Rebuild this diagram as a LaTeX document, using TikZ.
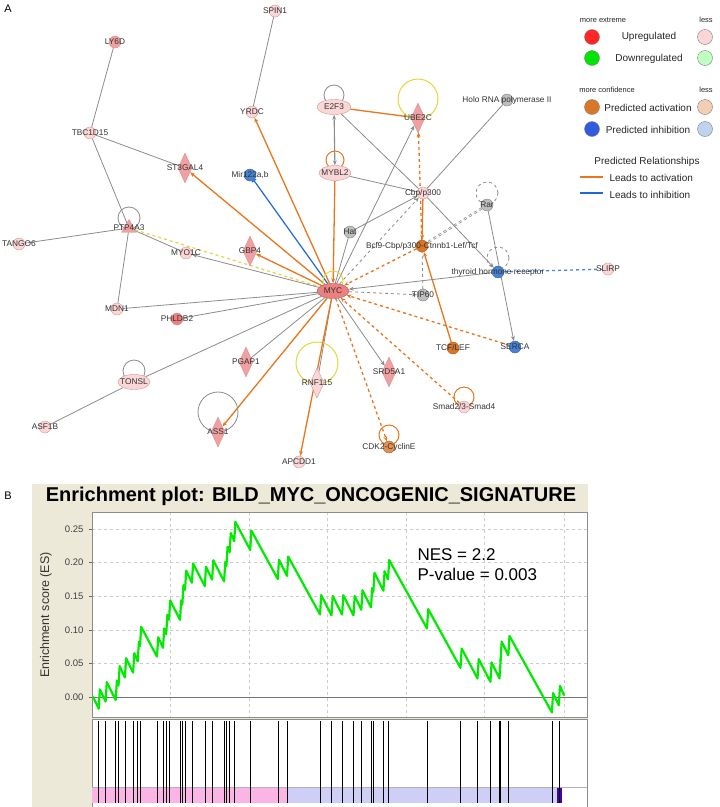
\documentclass[tikz,border=0pt]{standalone}
\usepackage{fontspec}
\setmainfont{Liberation Sans}
\usetikzlibrary{shapes.geometric,arrows.meta,backgrounds}
\definecolor{uplight}{RGB}{250,214,214}
\definecolor{upmid}{RGB}{240,160,160}
\definecolor{updark}{RGB}{236,128,128}
\definecolor{edgepink}{RGB}{215,150,150}
\definecolor{grnode}{RGB}{190,190,190}
\definecolor{ornode}{RGB}{218,118,40}
\definecolor{blnode}{RGB}{70,130,210}
\definecolor{oredge}{RGB}{232,118,28}
\definecolor{bledge}{RGB}{30,105,215}
\definecolor{gredge}{RGB}{140,140,140}
\definecolor{yeledge}{RGB}{228,215,60}
\definecolor{beige}{RGB}{236,233,216}
\definecolor{barpink}{RGB}{250,180,230}
\definecolor{barlav}{RGB}{206,206,246}
\definecolor{barpurple}{RGB}{70,0,170}
\definecolor{esgreen}{RGB}{0,235,0}
\newcommand{\glfont}{\fontsize{8.3}{9}\selectfont}
\tikzset{
  glabel/.style={label={[font=\glfont,text=black!80]center:#1}},
  gene/.style={circle, minimum size=12pt, inner sep=0pt, draw=edgepink, fill=uplight},
  genemid/.style={gene, fill=upmid},
  gray node/.style={gene, draw=gray, fill=grnode},
  orange node/.style={gene, draw=ornode!80!black, fill=ornode},
  blue node/.style={gene, draw=blnode!80!black, fill=blnode},
  ellip/.style={ellipse, minimum width=32pt, minimum height=15pt, inner sep=0pt, draw=edgepink, fill=uplight},
  dia/.style={diamond, minimum width=14pt, minimum height=30pt, inner sep=0pt, draw=edgepink, fill=upmid},
  tri/.style={regular polygon, regular polygon sides=3, minimum size=17pt, inner sep=0pt, draw=edgepink, fill=upmid},
  gline/.style={draw=gredge, line width=0.8pt},
  oline/.style={draw=oredge, line width=1.3pt},
  tip/.style={-{Stealth[length=5pt,width=4pt]}},
  legtext/.style={font=\fontsize{10}{12}\selectfont, text=black!85},
  legsmall/.style={font=\fontsize{7.5}{9}\selectfont, text=black!85},
  legdot/.style={circle, minimum size=15pt, inner sep=0pt, draw=black!50},
  escurve/.style={draw=esgreen, line width=2.2pt, line cap=round, line join=round},
  gridline/.style={draw=black!20, dashed, line width=0.5pt},
  ticklabel/.style={font=\fontsize{9.5}{11}\selectfont, text=black!75, anchor=east}
}
\begin{document}
\begin{tikzpicture}[x=1pt,y=-1pt]
\useasboundingbox (0,0) rectangle (720,807);
\node[font=\fontsize{11}{12}\selectfont] (panela) at (8,9) {A};
\node[font=\fontsize{11}{12}\selectfont] (panelb) at (8,496) {B};

% network nodes
\node[gene, glabel=SPIN1] (spin) at (275,11) {};
\node[genemid, glabel=LY6D] (lyd) at (115,42) {};
\node[gene, glabel=YRDC] (yrdc) at (252,112) {};
\node[ellip, minimum width=34pt, glabel=E2F3] (efthree) at (334,107) {};
\node[dia, glabel=UBE2C] (ube) at (418,118) {};
\node[gray node, glabel={Holo RNA polymerase II}] (holo) at (507,100) {};
\node[gene, glabel=TBC1D15] (tbc) at (90,133) {};
\node[dia, glabel=ST3GAL4] (stgal) at (185,168) {};
\node[blue node, glabel={Mir122a,b}] (mir) at (250,175) {};
\node[ellip, glabel=MYBL2] (mybl) at (335,173) {};
\node[gene, glabel=Cbp/p300] (cbp) at (423,193) {};
\node[gray node, glabel=Rar] (rar) at (487,205) {};
\node[gray node, glabel=Hat] (hat) at (350,232) {};
\node[orange node, glabel=Bcl9-Cbp/p300-Ctnnb1-Lef/Tcf] (bcl) at (422,246) {};
\node[tri, glabel=PTP4A3] (ptp) at (129,228) {};
\node[gene, glabel=TANGO6] (tango) at (19,244) {};
\node[gene, glabel=MYO1C] (myoc) at (186,253) {};
\node[dia, glabel=GBP4] (gbp) at (250,251) {};
\node[ellip, fill=updark, draw=updark!70!black, glabel=MYC] (myc) at (333,291) {};
\node[blue node, glabel={thyroid hormone receptor}] (thr) at (498,272) {};
\node[gene, glabel=SLIRP] (slirp) at (608,269) {};
\node[gray node, glabel=TIP60] (tip) at (423,295) {};
\node[gene, glabel=MDN1] (mdn) at (117,309) {};
\node[genemid, fill=updark, glabel=PHLDB2] (phl) at (177,319) {};
\node[orange node, glabel=TCF/LEF] (tcf) at (453,348) {};
\node[blue node, glabel=SERCA] (serca) at (515,347) {};
\node[dia, glabel=PGAP1] (pgap) at (246,362) {};
\node[dia, fill=uplight, glabel=RNF115] (rnf) at (317,383) {};
\node[dia, glabel=SRD5A1] (srd) at (389,372) {};
\node[ellip, glabel=TONSL] (tonsl) at (134,382) {};
\node[gene, glabel=Smad2/3-Smad4] (smad) at (464,407) {};
\node[gene, glabel=ASF1B] (asf) at (45,427) {};
\node[dia, glabel=ASS1] (ass) at (218,432) {};
\node[orange node, fill=ornode!80!white, glabel=CDK2-CyclinE] (cdk) at (389,447) {};
\node[gene, glabel=APCDD1] (apc) at (299,462) {};

% network edges
\begin{scope}[on background layer]
\fill[white] (0,0) rectangle (720,807);
\draw[gline] (spin) -- (yrdc);
\draw[gline] (lyd) -- (tbc);
\draw[gline] (tbc) -- (stgal);
\draw[gline] (tbc) -- (ptp);
\draw[gline] (ptp) -- (tango);
\draw[gline] (ptp) -- (mdn);
\draw[gline] (ptp) -- (myoc);
\draw[gline] ([yshift=10pt]ptp) circle (11pt);
\draw[draw=yeledge, line width=1.2pt, dashed] (ptp) -- (myc);
\draw[oline, tip] (myc) -- (yrdc);
\draw[oline, tip] (myc) -- (stgal);
\draw[draw=bledge, line width=1.2pt, -{Bar[width=5pt]}] (myc) -- (mir);
\draw[oline, tip] (myc) -- (gbp);
\draw[gline, tip] (myc) -- (myoc);
\draw[gline] (myc) -- (mdn);
\draw[gline] (myc) -- (phl);
\draw[gline] (myc) -- (tonsl);
\draw[gline] (tonsl) -- (asf);
\draw[gline] ([yshift=11pt]tonsl) circle (11pt);
\draw[gline] (myc) -- (pgap);
\draw[oline, tip] (myc) -- (ass);
\draw[gline] ([yshift=20pt]ass) circle (20pt);
\draw[gline] (myc) -- (rnf);
\draw[draw=yeledge, line width=1pt] ([yshift=20pt]rnf) circle (21pt);
\draw[oline, tip] (myc) -- (apc);
\draw[oline, dashed, tip] (myc) -- (cdk);
\draw[draw=oredge, line width=1pt] ([yshift=12pt]cdk) circle (10pt);
\draw[oline, dashed, tip] (smad) -- (myc);
\draw[draw=oredge, line width=1pt] ([yshift=10pt]smad) circle (10pt);
\draw[oline, dashed, tip] (serca) -- (myc);
\draw[gline, tip] (myc) -- (srd);
\draw[oline, tip] (tcf) -- (bcl);
\draw[oline, dashed, tip] (bcl) -- (myc);
\draw[gline, dashed, tip] (myc) -- (tip);
\draw[gline, dashed] (tip) -- (bcl);
\draw[gline, tip] (thr) -- (myc);
\draw[draw=bledge!80!white, line width=1.3pt, dashed] (thr) -- (slirp);
\draw[gline, dashed] ([yshift=14pt]thr) circle (11pt);
\draw[gline, tip] (rar) -- (serca);
\draw[gline, dashed, double] (rar) -- (bcl);
\draw[gline, dashed] ([yshift=12pt]rar) circle (11pt);
\draw[gline] (efthree) -- (cbp);
\draw[gline, tip] (cbp) -- (thr);
\draw[gline] (mybl) -- (cbp);
\draw[gline] (holo) -- (cbp);
\draw[oline] (efthree) -- (ube);
\draw[draw=yeledge, line width=1pt] ([yshift=19pt]ube) circle (20pt);
\draw[gline, line width=1.1pt, {Stealth[length=5pt]}-{Stealth[length=5pt]}] (efthree) -- (mybl);
\draw[gline] ([yshift=12pt]efthree) circle (10pt);
\draw[draw=oredge, line width=1pt] ([yshift=13pt]mybl) circle (9pt);
\draw[oline, tip] (mybl) -- (myc);
\draw[gline, tip] (myc) -- (ube);
\draw[gline, dashed, tip] (myc) -- (cbp);
\draw[gline, tip] (hat) -- (cbp);
\draw[gline] (myc) -- (hat);
\draw[oline, dashed, tip] (bcl) -- (ube);
\draw[oline, tip] (cbp) -- (bcl);
\draw[draw=yeledge, line width=1pt] ([yshift=10pt]myc) circle (10pt);
\end{scope}

% legend
\node[legsmall] (legext) at (603,20) {more extreme};
\node[legsmall] (legexl) at (706,20) {less};
\node[legdot, fill=red!85!white] (legup) at (592,37) {};
\node[legtext] (leguptxt) at (649,37) {Upregulated};
\node[legdot, fill=uplight] (legupl) at (705,37) {};
\node[legdot, fill=green!90!black] (legdn) at (592,58) {};
\node[legtext] (legdntxt) at (649,59) {Downregulated};
\node[legdot, fill=green!25] (legdnl) at (705,58) {};
\node[legsmall] (legconf) at (607,90) {more confidence};
\node[legsmall] (legconfl) at (706,90) {less};
\node[legdot, fill=ornode] (legact) at (592,107) {};
\node[legtext] (legacttxt) at (648,108) {Predicted activation};
\node[legdot, fill=ornode!35!white] (legactl) at (705,107) {};
\node[legdot, fill=blnode!70!blue] (leginh) at (592,129) {};
\node[legtext] (leginhtxt) at (648,130) {Predicted inhibition};
\node[legdot, fill=blnode!35!white] (leginhl) at (705,129) {};
\node[legtext] (legrel) at (647,162) {Predicted Relationships};
\coordinate (lao) at (580,177);
\coordinate (lat) at (603,177);
\draw[draw=oredge, line width=1.8pt] (lao) -- (lat);
\node[legtext, anchor=west] (legacttxt) at (606,178) {Leads to activation};
\coordinate (lbo) at (580,193);
\coordinate (lbt) at (603,193);
\draw[draw=bledge, line width=1.8pt] (lbo) -- (lbt);
\node[legtext, anchor=west] (leginhtxt) at (606,195) {Leads to inhibition};

% enrichment plot
\fill[beige] (32,484) rectangle (588,807);
\node[font=\bfseries\fontsize{20}{22}\selectfont] (title) at (311,496) {Enrichment plot: BILD\_MYC\_ONCOGENIC\_SIGNATURE};
\fill[white] (92,512) rectangle (587,717);
\fill[white] (92,719) rectangle (587,807);
\foreach \gx in {170,249,327,406,484,564}
  \draw[gridline] (\gx,512) -- (\gx,717);
\foreach \k/\t in {0/0.00,1/0.05,2/0.10,3/0.15,4/0.20,5/0.25}{
  \ifnum\k>0 \draw[gridline] (92,{697-33.6*\k}) -- (587,{697-33.6*\k}); \fi
  \draw[black!60] (89,{697-33.6*\k}) -- (92,{697-33.6*\k});
  \node[ticklabel] at (87,{697-33.6*\k}) {\t};
}
\draw[black!55, line width=0.7pt] (92,697) -- (587,697);
\draw[black!45] (92,512) rectangle (587,717);
\draw[black!45] (92,719) rectangle (587,807);
\node[font=\fontsize{12.5}{14}\selectfont, text=black!80, rotate=90] (ylab) at (46,615) {Enrichment score (ES)};
\node[font=\fontsize{17}{20}\selectfont, anchor=west, align=left] (nes) at (414,565) {NES = 2.2\\P-value = 0.003};
% ranked list bar
\fill[barpink] (92,787) rectangle (287,803);
\fill[barlav] (287,787) rectangle (557,803);
\fill[barpurple] (557,787) rectangle (562,803);
\draw[black!30] (92,787) -- (587,787);
\foreach \h in {98.7,105.6,115.7,118.5,124.9,133.1,137.7,140.0,157.0,163.0,166.2,169.0,180.0,182.3,185.0,191.9,204.8,212.1,224.1,226.4,229.6,234.2,250.2,277.8,287.0,320.0,331.5,342.1,353.5,361.3,371.0,373.3,383.4,388.0,427.0,460.5,477.5,490.4,499.5,500.5,508.3,551.9,558.8}
  \draw[black, line width=0.6pt] (\h,721) -- (\h,803);
% running enrichment score
\gdef\esx{92}\gdef\esy{0}
\foreach \h in {98.7,105.6,115.7,118.5,124.9,133.1,137.7,140.0,157.0,163.0,166.2,169.0,180.0,182.3,185.0,191.9,204.8,212.1,224.1,226.4,229.6,234.2,250.2,277.8,287.0,320.0,331.5,342.1,353.5,361.3,371.0,373.3,383.4,388.0,427.0,460.5,477.5,490.4,499.5,500.5,508.3,551.9,558.8}{
  \pgfmathsetmacro\eslo{\esy-0.00261*(\h-\esx)}
  \pgfmathsetmacro\eshi{\eslo+0.0287}
  \draw[escurve] (\esx+1.2,{697-672*\esy}) -- (\h,{697-672*\eslo}) -- (\h+1.2,{697-672*\eshi});
  \xdef\esx{\h}\xdef\esy{\eshi}
}
\draw[escurve] (\esx+1.2,{697-672*\esy}) -- (564,{697-672*(\esy-0.00261*(564-\esx))});
\end{tikzpicture}
\end{document}
